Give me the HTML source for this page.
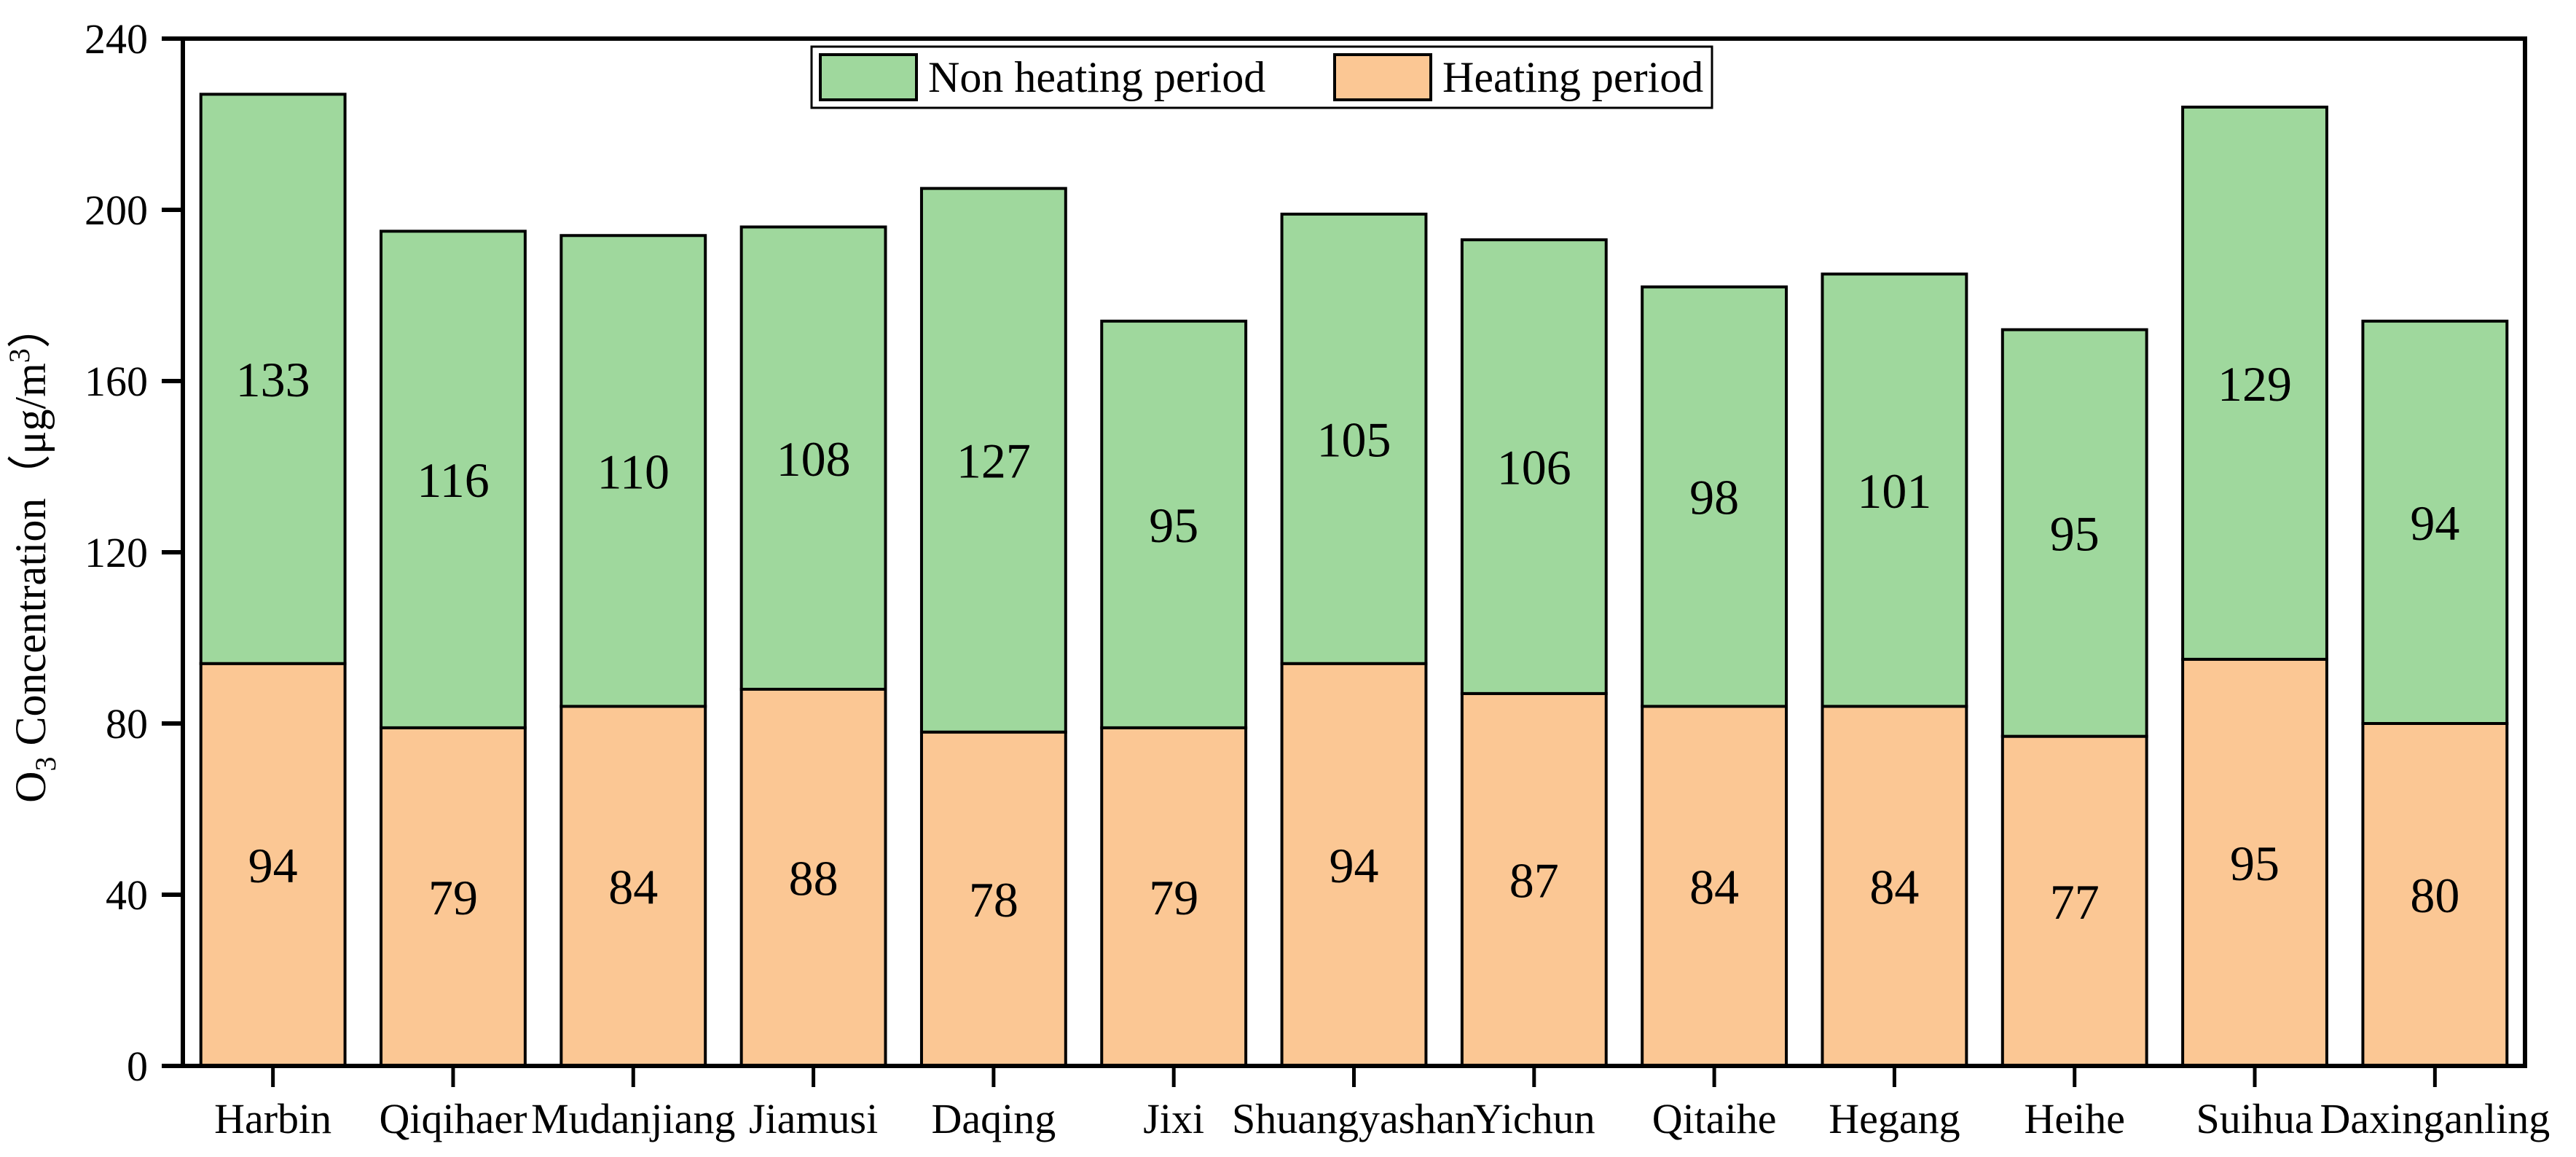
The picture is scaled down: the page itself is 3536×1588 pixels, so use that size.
<!DOCTYPE html>
<html><head><meta charset="utf-8"><style>
html,body{margin:0;padding:0;background:#fff;}
svg{display:block;font-family:"Liberation Serif",serif;}
</style></head><body>
<svg id="chart" width="3536" height="1588" viewBox="0 0 3536 1588"></svg>
<script>
const categories=["Harbin","Qiqihaer","Mudanjiang","Jiamusi","Daqing","Jixi","Shuangyashan","Yichun","Qitaihe","Hegang","Heihe","Suihua","Daxinganling"];
const heating=[94,79,84,88,78,79,94,87,84,84,77,95,80];
const nonHeating=[133,116,110,108,127,95,105,106,98,101,95,129,94];
const yTicks=[0,40,80,120,160,200,240];

const NS="http://www.w3.org/2000/svg";
const svg=document.getElementById('chart');
const L=251,R=3466,T=53,B=1463,YMAX=240;
const band=(R-L)/categories.length;
const bw=band*0.8;
function y(v){return B-(v/YMAX)*(B-T);}
function xc(i){return L+band*(i+0.5);}
function mk(tag,attrs,parent){const e=document.createElementNS(NS,tag);for(const k in attrs)e.setAttribute(k,attrs[k]);(parent||svg).appendChild(e);return e;}

const gBars=mk('g',{});


categories.forEach((c,i)=>{
  const x=xc(i)-bw/2;
  const h=heating[i],n=nonHeating[i];
  const rb=mk('rect',{x:x,y:y(h),width:bw,height:y(0)-y(h),fill:'#fbc794',stroke:'#000','stroke-width':4},gBars);
  
  
  const rt=mk('rect',{x:x,y:y(h+n),width:bw,height:y(h)-y(h+n),fill:'#9fd89d',stroke:'#000','stroke-width':4},gBars);
  
  
  const t1=mk('text',{x:xc(i),y:y(h/2)+24,'text-anchor':'middle','font-size':68},gBars);
  t1.textContent=h;
  
  
  const t2=mk('text',{x:xc(i),y:y(h+n/2)+24,'text-anchor':'middle','font-size':68},gBars);
  t2.textContent=n;
  
  
  const tk=mk('line',{x1:xc(i),x2:xc(i),y1:B,y2:B+29,stroke:'#000','stroke-width':5});
  
  
  const cl=mk('text',{x:xc(i),y:1555,'text-anchor':'middle','font-size':58});
  cl.textContent=c;
  
  
});

yTicks.forEach(v=>{
  const tk=mk('line',{x1:L-29,x2:L,y1:y(v),y2:y(v),stroke:'#000','stroke-width':6});
  
  
  const tl=mk('text',{x:L-48,y:y(v)+20,'text-anchor':'end','font-size':58});
  tl.textContent=v;
  
  
});

const frame=mk('rect',{x:L,y:T,width:R-L,height:B-T,fill:'none',stroke:'#000','stroke-width':6});



const yt=mk('text',{transform:'translate(62,760) rotate(-90)','text-anchor':'middle','font-size':60});
yt.innerHTML='O<tspan font-size="40" dy="14">3</tspan><tspan dy="-14"> Concentration（μg/m</tspan><tspan font-size="40" dy="-22">3</tspan><tspan dy="22">）</tspan>';



const lg=mk('g',{});


mk('rect',{x:1114,y:64,width:1236,height:84,fill:'#fff',stroke:'#000','stroke-width':3},lg);
const s1=mk('rect',{x:1126,y:75,width:132,height:62,fill:'#9fd89d',stroke:'#000','stroke-width':4},lg);


const l1=mk('text',{x:1274,y:126,'font-size':60},lg);
l1.textContent='Non heating period';


const s2=mk('rect',{x:1832,y:75,width:132,height:62,fill:'#fbc794',stroke:'#000','stroke-width':4},lg);


const l2=mk('text',{x:1980,y:126,'font-size':60},lg);
l2.textContent='Heating period';


</script>
</body></html>
